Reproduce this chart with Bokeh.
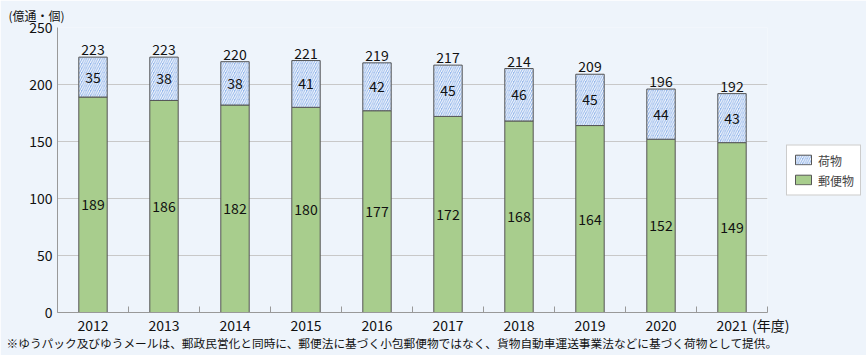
from bokeh.plotting import figure
from bokeh.models import (ColumnDataSource, FixedTicker, Legend, LegendItem,
                          Range1d, Title)
from bokeh.embed import file_html
from bokeh.resources import INLINE

years = ["2012", "2013", "2014", "2015", "2016", "2017", "2018", "2019", "2020", "2021"]
mail = [189, 186, 182, 180, 177, 172, 168, 164, 152, 149]      # 郵便物
parcel = [35, 38, 38, 41, 42, 45, 46, 45, 44, 43]              # 荷物
total = [223, 223, 220, 221, 219, 217, 214, 209, 196, 192]
y_ticks = [0, 50, 100, 150, 200, 250]

FONT = "Noto Sans CJK JP"
BG = "#EEF4FB"

xs = [i + 0.5 for i in range(len(years))]
src = ColumnDataSource(dict(
    x=xs, mail=mail, parcel=parcel, total=total,
    top=[m + p for m, p in zip(mail, parcel)],
    mail_mid=[m / 2 for m in mail],
    parcel_mid=[m + p / 2 for m, p in zip(mail, parcel)],
    mail_s=[str(v) for v in mail], parcel_s=[str(v) for v in parcel],
    total_s=[str(v) for v in total],
))

p = figure(frame_width=710, frame_height=285, output_backend="svg", toolbar_location=None,
           x_range=Range1d(0, len(years)), y_range=Range1d(0, 250),
           min_border_left=57, min_border_right=99, min_border_top=27, min_border_bottom=43,
           background_fill_color=BG, border_fill_color=BG, outline_line_color=None)

r_mail = p.vbar(x="x", bottom=0, top="mail", width=0.4, source=src,
                fill_color="#A8CD8D", line_color="#555555", line_width=1)
r_parcel = p.vbar(x="x", bottom="mail", top="top", width=0.4, source=src,
                  fill_color="#94B6EA", hatch_pattern="right_diagonal_line",
                  hatch_color="white", hatch_scale=4.5, hatch_weight=1,
                  line_color="#555555", line_width=1)

for ycol, tcol, base, off in [("mail_mid", "mail_s", "middle", 0),
                              ("parcel_mid", "parcel_s", "middle", 0),
                              ("top", "total_s", "bottom", -2)]:
    p.text(x="x", y=ycol, text=tcol, source=src, text_align="center",
           text_baseline=base, y_offset=off, text_font_size="14px",
           text_color="#111111", text_font={"value": FONT})

# axes
p.xaxis.ticker = FixedTicker(ticks=xs + [len(years)], minor_ticks=list(range(len(years) + 1)))
overrides = {x: y for x, y in zip(xs, years)}
overrides[len(years)] = "\u00a0\u00a0(年度)"
p.xaxis.major_label_overrides = overrides
p.xaxis.major_tick_line_color = None
p.xaxis.major_tick_out = 0
p.xaxis.major_tick_in = 0
p.xaxis.minor_tick_in = 6
p.xaxis.minor_tick_out = 0
p.xaxis.minor_tick_line_color = "#999999"
p.xaxis.axis_line_color = "#999999"
p.xaxis.major_label_text_font = FONT
p.xaxis.major_label_text_font_size = "14px"
p.xaxis.major_label_text_color = "#111111"
p.xaxis.major_label_standoff = 2

p.yaxis.ticker = FixedTicker(ticks=y_ticks)
p.yaxis.major_tick_line_color = None
p.yaxis.major_tick_out = 0
p.yaxis.major_tick_in = 0
p.yaxis.minor_tick_line_color = None
p.yaxis.axis_line_color = "#999999"
p.yaxis.major_label_text_font = FONT
p.yaxis.major_label_text_font_size = "14px"
p.yaxis.major_label_text_color = "#111111"
p.yaxis.major_label_standoff = 5

p.xgrid.grid_line_color = None
p.ygrid.grid_line_color = "#C8C8C8"
p.ygrid.ticker = FixedTicker(ticks=y_ticks[1:])

# legend
legend = Legend(items=[LegendItem(label="荷物", renderers=[r_parcel]),
                       LegendItem(label="郵便物", renderers=[r_mail])],
                location="left", label_text_font=FONT, label_text_font_size="12px",
                glyph_width=20, glyph_height=12, label_standoff=5, spacing=3,
                padding=6, margin=19, border_line_color="#999999",
                background_fill_color="white", background_fill_alpha=1,
                label_height=14)
p.add_layout(legend, "right")

# titles
p.add_layout(Title(text="(億通・個)", align="left", offset=-49, text_font=FONT,
                   text_font_size="12px", text_font_style="normal", standoff=7,
                   text_color="#111111"), "above")
p.add_layout(Title(text="※ゆうパック及びゆうメールは、郵政民営化と同時に、郵便法に基づく小包郵便物ではなく、貨物自動車運送事業法などに基づく荷物として提供。",
                   align="left", offset=-51, text_font=FONT, text_font_size="11.7px",
                   standoff=-12, text_font_style="normal", text_color="#111111"), "below")

open("out.html", "w").write(file_html(p, INLINE))
